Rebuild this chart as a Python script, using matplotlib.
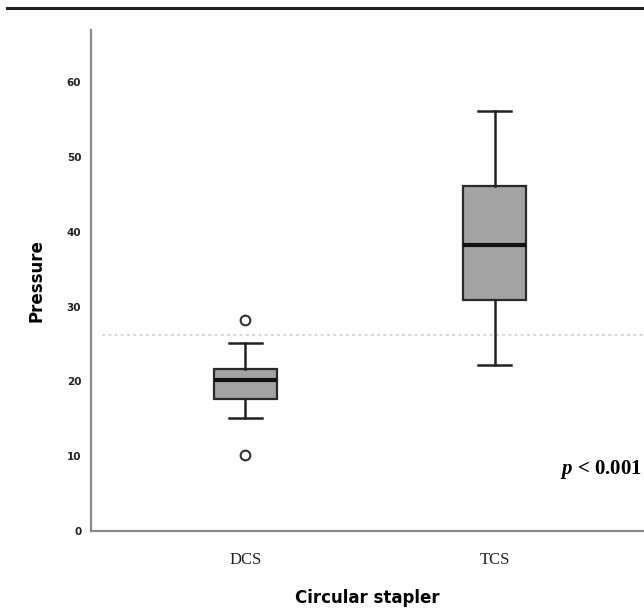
import matplotlib
matplotlib.use('Agg')
import matplotlib.pyplot as plt
from matplotlib.lines import Line2D

plt.rcParams['mathtext.fontset'] = 'custom'
plt.rcParams['mathtext.it'] = 'Liberation Serif:italic:bold'
plt.rcParams['mathtext.rm'] = 'Liberation Serif:bold'

# box statistics
groups = ['DCS', 'TCS']
q1 = [17.7, 30.9]
med = [20.2, 38.3]
q3 = [21.7, 46.2]
whislo = [15.1, 22.2]
whishi = [25.2, 56.2]
fliers = [[28.2, 10.2], []]
ref_line = 26.2
yticks = [0, 10, 20, 30, 40, 50, 60]

fig = plt.figure(figsize=(6.44, 6.1), dpi=100)
ax = fig.add_axes([0.1413, 0.1295, 0.8587, 0.8213])

stats = []
for i in range(len(groups)):
    stats.append(dict(label=groups[i], q1=q1[i], med=med[i], q3=q3[i],
                      whislo=whislo[i], whishi=whishi[i], fliers=fliers[i]))

ax.bxp(stats, positions=[1, 2], widths=0.255, patch_artist=True,
       boxprops=dict(facecolor='#a3a3a3', edgecolor='#2a2a2a', linewidth=1.6),
       medianprops=dict(color='#111111', linewidth=3),
       whiskerprops=dict(color='#222222', linewidth=1.8),
       capprops=dict(color='#222222', linewidth=1.8),
       capwidths=0.13,
       flierprops=dict(marker='o', markersize=7, markerfacecolor='white',
                       markeredgecolor='#333333', markeredgewidth=1.5))

# faint dotted reference line
ax.axhline(ref_line, xmin=0.02, xmax=1, color='#d8d8d8', linestyle=(0, (1.5, 1.5)),
           linewidth=1.5, zorder=0)

ax.set_xlim(0.38, 2.6)
ax.set_ylim(0, 67)
ax.set_yticks(yticks)
ax.set_yticklabels([str(v) for v in yticks], fontsize=7.5, fontweight='bold', color='#222222')
ax.set_xticks([1, 2])
ax.set_xticklabels(groups, family='Liberation Serif', fontsize=12, color='#222222')
ax.tick_params(axis='both', length=0)
ax.tick_params(axis='x', pad=15)
ax.tick_params(axis='y', pad=7)

for s in ['top', 'right']:
    ax.spines[s].set_visible(False)
for s in ['left', 'bottom']:
    ax.spines[s].set_color('#8a8a8a')
    ax.spines[s].set_linewidth(1.6)

ax.set_ylabel('Pressure', fontsize=12, fontweight='bold', labelpad=15)
ax.set_xlabel('Circular stapler', fontsize=12, fontweight='bold', labelpad=15)

ax.text(0.997, 0.123, r'$p$ < 0.001', transform=ax.transAxes, ha='right',
        va='center', family='Liberation Serif', fontsize=15, fontweight='bold')

# rule across the top of the image
fig.add_artist(Line2D([0.011, 1.0], [0.987, 0.987], color='#222222', linewidth=2.2))

fig.savefig('out.png', dpi=100)
